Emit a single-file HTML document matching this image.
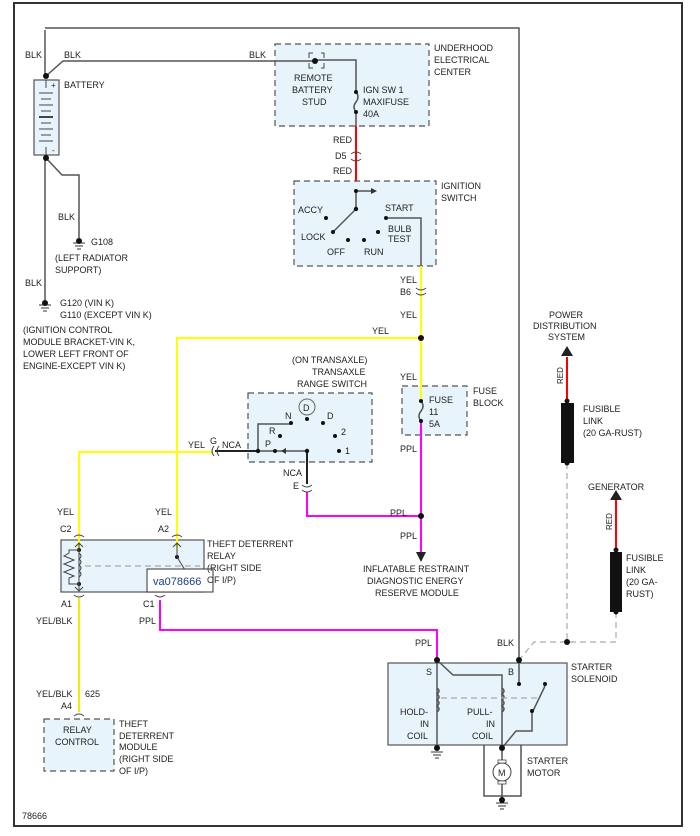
<!DOCTYPE html>
<html><head><style>
html,body{margin:0;padding:0;background:#fff;}
svg{display:block;}
text{font-family:"Liberation Sans",sans-serif;font-size:9px;fill:#222;}
</style></head><body>
<svg width="700" height="836" viewBox="0 0 700 836" xmlns="http://www.w3.org/2000/svg">
<rect x="14" y="3" width="668" height="823" fill="#fff" stroke="#333" stroke-width="2"/>
<g fill="#e8f4fc" stroke="#555" stroke-width="1.2" stroke-dasharray="6,4">
<rect x="275" y="44" width="154" height="82"/>
<rect x="294" y="181" width="142" height="85"/>
<rect x="248" y="393" width="124" height="69"/>
<rect x="402" y="386" width="65" height="49"/>
<rect x="44" y="719" width="70" height="52"/>
</g>
<g fill="#e8f4fc" stroke="#555" stroke-width="1.2">
<rect x="34" y="80" width="25" height="75"/>
<rect x="61" y="540" width="143" height="52"/>
<rect x="388" y="663" width="179" height="82"/>
</g>
<!-- black wires -->
<g fill="none" stroke="#555" stroke-width="1.5">
<polyline points="45,30 45,76"/>
<polyline points="45,158 45,300"/>
<polyline points="46,76 63,61 315,61"/>
<polyline points="315,60 356,60 356,92"/>
<polyline points="356,112 356,126"/>
<polyline points="46,158 62,175 79,175 79,238"/>
<polyline points="45,28 519,28 519,660"/>
<polyline points="356,191 356,209 333,232"/>
<polyline points="386,218 421,218 421,266"/>
<polyline points="437,660 437,748"/>
<polyline points="437,660 453,675 502,675 502,748"/>
<polyline points="519,660 519,684"/>
<polyline points="502,748 516,731 532,731 532,713 545,686"/>
<polyline points="484,745 484,796 521,796 521,745"/>
<line x1="502" y1="745" x2="502" y2="763"/>
<line x1="502" y1="781" x2="502" y2="800"/>
<polyline points="258,451 258,424 291,424"/>
<polyline points="258,451 307,451"/>
<path d="M356,92 q4,5 0,10 q-4,5 0,10"/>
<path d="M421,401 q4,5 0,10 q-4,5 0,10"/>
<path d="M437,688 q4,3 0,6 q4,3 0,6 q4,3 0,6 q4,3 0,6"/>
<path d="M502,688 q4,3 0,6 q4,3 0,6 q4,3 0,6 q4,3 0,6"/>
</g>
<g stroke="#222" stroke-width="2" fill="none">
<line x1="215" y1="451" x2="258" y2="451"/>
<line x1="307" y1="451" x2="307" y2="484"/>
</g>
<line x1="356" y1="191" x2="374" y2="191" stroke="#333" stroke-width="1.2"/>
<polygon points="377,191 371,188 371,194" fill="#333"/>
<polygon points="281,451 286,448 286,454" fill="#333"/>
<!-- colored wires -->
<g fill="none" stroke-width="2">
<line x1="356" y1="126" x2="356" y2="181" stroke="#f00"/>
<polyline points="421,266 421,401" stroke="#ff0"/>
<polyline points="421,338 177,338 177,548" stroke="#ff0"/>
<polyline points="212,452 79,452 79,548" stroke="#ff0"/>
<line x1="79" y1="598" x2="79" y2="712" stroke="#ee0"/>
<line x1="421" y1="421" x2="421" y2="552" stroke="#f0f"/>
<polyline points="307,492 307,516 421,516" stroke="#f0f"/>
<polyline points="160,600 160,630 437,630 437,660" stroke="#f0f"/>
<line x1="567" y1="357" x2="567" y2="403" stroke="#f00"/>
<line x1="616" y1="500" x2="616" y2="552" stroke="#f00"/>
</g>
<polygon points="416,552 426,552 421,562" fill="#222"/>
<polygon points="561,356 573,356 567,346" fill="#222"/>
<polygon points="610,500 622,500 616,490" fill="#222"/>
<rect x="561" y="403" width="13" height="60" fill="#111"/>
<rect x="610" y="552" width="12" height="60" fill="#111"/>
<g fill="none" stroke="#aaa" stroke-width="1.2" stroke-dasharray="6,4">
<polyline points="567,463 567,642"/>
<polyline points="616,612 616,642 534,642 519,660"/>
<line x1="85" y1="566" x2="200" y2="566"/>
<line x1="441" y1="698" x2="540" y2="698"/>
</g>
<!-- battery plates -->
<g stroke="#444" stroke-width="1">
<line x1="46" y1="80" x2="46" y2="88"/><line x1="46" y1="147" x2="46" y2="155"/>
<line x1="39" y1="93" x2="53" y2="93"/><line x1="41" y1="99" x2="51" y2="99"/>
<line x1="39" y1="105" x2="53" y2="105"/><line x1="41" y1="111" x2="51" y2="111"/>
<line x1="39" y1="117" x2="53" y2="117" stroke-width="2"/><line x1="41" y1="123" x2="51" y2="123"/>
<line x1="39" y1="129" x2="53" y2="129"/><line x1="41" y1="135" x2="51" y2="135"/>
<line x1="39" y1="141" x2="53" y2="141"/>
</g>
<text x="51" y="88" style="font-size:8px">+</text><text x="52" y="153" style="font-size:8px">-</text>
<!-- grounds -->
<g stroke="#333" stroke-width="1">
<line x1="73" y1="243" x2="85" y2="243"/><line x1="75" y1="246" x2="83" y2="246"/><line x1="77" y1="249" x2="81" y2="249"/>
<line x1="39" y1="305" x2="51" y2="305"/><line x1="41" y1="308" x2="49" y2="308"/><line x1="43" y1="311" x2="47" y2="311"/>
<line x1="431" y1="752" x2="443" y2="752"/><line x1="433" y1="755" x2="441" y2="755"/><line x1="435" y1="758" x2="439" y2="758"/>
<line x1="496" y1="803" x2="508" y2="803"/><line x1="498" y1="806" x2="506" y2="806"/><line x1="500" y1="809" x2="504" y2="809"/>
</g>
<circle cx="502" cy="772" r="9" fill="#fff" stroke="#444"/>
<text x="498" y="776">M</text>
<rect x="498" y="760" width="8" height="3" fill="#fff" stroke="#444" stroke-width="0.8"/>
<rect x="498" y="781" width="8" height="3" fill="#fff" stroke="#444" stroke-width="0.8"/>
<circle cx="307" cy="407" r="8" fill="none" stroke="#666"/>
<text x="303" y="411">D</text>
<!-- stud bracket -->
<path d="M309,58 v-5 h4 M321,53 h3 v5 M309,63 v5 h4 M321,68 h3 v-5" fill="none" stroke="#444"/>
<!-- dots -->
<g fill="#111">
<circle cx="46" cy="76" r="3"/><circle cx="46" cy="158" r="3"/><circle cx="315" cy="61" r="3"/>
<circle cx="79" cy="241" r="3"/><circle cx="45" cy="303" r="3"/>
<circle cx="356" cy="92" r="2"/><circle cx="356" cy="112" r="2"/>
<circle cx="356" cy="191" r="2"/><circle cx="356" cy="209" r="2.2"/><circle cx="333" cy="232" r="2"/>
<circle cx="326" cy="218" r="2"/><circle cx="348" cy="240" r="2"/><circle cx="364" cy="240" r="2"/>
<circle cx="378" cy="232" r="2"/><circle cx="386" cy="218" r="2"/>
<circle cx="421" cy="338" r="3"/><circle cx="421" cy="516" r="3"/>
<circle cx="421" cy="401" r="2"/><circle cx="421" cy="421" r="2"/>
<circle cx="291" cy="423" r="2"/><circle cx="307" cy="419" r="2"/><circle cx="323" cy="423" r="2"/>
<circle cx="280" cy="436" r="2"/><circle cx="335" cy="436" r="2"/><circle cx="258" cy="451" r="2.2"/>
<circle cx="275" cy="451" r="2"/><circle cx="307" cy="451" r="2.2"/><circle cx="339" cy="451" r="2"/>
<circle cx="567" cy="401" r="2.5"/><circle cx="567" cy="463" r="2.5"/><circle cx="567" cy="642" r="3"/>
<circle cx="616" cy="550" r="2.5"/><circle cx="616" cy="612" r="2.5"/>
<circle cx="437" cy="660" r="3"/><circle cx="519" cy="660" r="3"/><circle cx="437" cy="748" r="3"/>
<circle cx="502" cy="748" r="3"/><circle cx="502" cy="800" r="3"/><circle cx="519" cy="684" r="2"/>
<circle cx="545" cy="684" r="2"/><circle cx="532" cy="711" r="2"/>
<circle cx="79" cy="550" r="2"/><circle cx="79" cy="584" r="2"/><circle cx="177" cy="557" r="2"/>
</g>
<!-- relay internals -->
<g fill="none" stroke="#444" stroke-width="1">
<line x1="79" y1="543" x2="79" y2="590"/>
<polyline points="79,550 69,550 69,553 64,556 74,560 64,564 74,568 64,572 74,576 69,578 69,584 79,584"/>
<path d="M79,553 q4,3 0,6 q4,3 0,6 q4,3 0,6 q4,3 0,6"/>
<polyline points="177,543 177,557 190,578"/>
<path d="M75,547 l4,-4 l4,4 M75,587 l4,4 l4,-4 M173,547 l4,-4 l4,4"/>
</g>
<!-- connectors -->
<g fill="none" stroke="#444" stroke-width="1">
<path d="M351,154 q5,-4 10,0 M351,159 q5,4 10,0"/>
<path d="M416,288 q5,4 10,0 M416,293 q5,4 10,0"/>
<path d="M214,446 q-4,5 0,10 M219,446 q-4,5 0,10"/>
<path d="M302,485 q5,4 10,0 M302,490 q5,4 10,0"/>
<path d="M74,537 q5,-4 10,0 M172,537 q5,-4 10,0"/>
<path d="M74,595 q5,4 10,0 M155,595 q5,4 10,0"/>
<path d="M74,716 q5,-4 10,0"/>
</g>
<rect x="147" y="569" width="66" height="23" fill="#fff" stroke="#333"/>
<text x="153" y="585" style="font-size:11px;fill:#1a3c8c">va078666</text>
<!-- labels -->
<text x="25" y="58">BLK</text><text x="64" y="58">BLK</text><text x="249" y="58">BLK</text>
<text x="64" y="88">BATTERY</text>
<text x="434" y="51">UNDERHOOD</text><text x="434" y="63">ELECTRICAL</text><text x="434" y="75">CENTER</text>
<text x="294" y="81">REMOTE</text><text x="292" y="93">BATTERY</text><text x="302" y="105">STUD</text>
<text x="363" y="93">IGN SW 1</text><text x="363" y="105">MAXIFUSE</text><text x="363" y="117">40A</text>
<text x="333" y="143">RED</text><text x="335" y="159">D5</text><text x="333" y="174">RED</text>
<text x="441" y="189">IGNITION</text><text x="441" y="201">SWITCH</text>
<text x="298" y="213">ACCY</text><text x="385" y="211">START</text><text x="301" y="240">LOCK</text>
<text x="388" y="232">BULB</text><text x="388" y="242">TEST</text>
<text x="327" y="255">OFF</text><text x="364" y="255">RUN</text>
<text x="58" y="220">BLK</text><text x="91" y="245">G108</text>
<text x="55" y="261">(LEFT RADIATOR</text><text x="55" y="273">SUPPORT)</text>
<text x="25" y="286">BLK</text>
<text x="60" y="306">G120 (VIN K)</text><text x="60" y="318">G110 (EXCEPT VIN K)</text>
<text x="23" y="333">(IGNITION CONTROL</text><text x="23" y="345">MODULE BRACKET-VIN K,</text>
<text x="23" y="357">LOWER LEFT FRONT OF</text><text x="23" y="369">ENGINE-EXCEPT VIN K)</text>
<text x="400" y="283">YEL</text><text x="400" y="295">B6</text><text x="400" y="318">YEL</text>
<text x="372" y="334">YEL</text>
<text x="292" y="363">(ON TRANSAXLE)</text><text x="312" y="375">TRANSAXLE</text><text x="297" y="387">RANGE SWITCH</text>
<text x="285" y="419">N</text><text x="327" y="419">D</text><text x="269" y="434">R</text><text x="341" y="435">2</text>
<text x="265" y="447">P</text><text x="345" y="454">1</text>
<text x="188" y="448">YEL</text><text x="210" y="444">G</text><text x="222" y="448">NCA</text>
<text x="283" y="476">NCA</text><text x="293" y="489">E</text>
<text x="400" y="380">YEL</text>
<text x="429" y="403">FUSE</text><text x="429" y="415">11</text><text x="429" y="427">5A</text>
<text x="473" y="394">FUSE</text><text x="473" y="406">BLOCK</text>
<text x="400" y="452">PPL</text><text x="390" y="516">PPL</text><text x="400" y="539">PPL</text>
<text x="363" y="572">INFLATABLE RESTRAINT</text><text x="367" y="584">DIAGNOSTIC ENERGY</text><text x="375" y="596">RESERVE MODULE</text>
<text x="57" y="515">YEL</text><text x="155" y="515">YEL</text>
<text x="60" y="532">C2</text><text x="158" y="532">A2</text>
<text x="207" y="547">THEFT DETERRENT</text><text x="207" y="559">RELAY</text><text x="207" y="571">(RIGHT SIDE</text><text x="207" y="583">OF I/P)</text>
<text x="61" y="607">A1</text><text x="143" y="607">C1</text>
<text x="36" y="624">YEL/BLK</text><text x="139" y="624">PPL</text>
<text x="36" y="697">YEL/BLK</text><text x="85" y="697">625</text><text x="61" y="709">A4</text>
<text x="63" y="733">RELAY</text><text x="55" y="745">CONTROL</text>
<text x="119" y="727">THEFT</text><text x="119" y="739">DETERRENT</text><text x="119" y="750">MODULE</text><text x="119" y="762">(RIGHT SIDE</text><text x="119" y="774">OF I/P)</text>
<text x="22" y="819">78666</text>
<text x="415" y="646">PPL</text><text x="497" y="646">BLK</text>
<text x="426" y="675">S</text><text x="508" y="675">B</text>
<text x="571" y="670">STARTER</text><text x="571" y="682">SOLENOID</text>
<text x="400" y="715">HOLD-</text><text x="420" y="727">IN</text><text x="407" y="739">COIL</text>
<text x="467" y="715">PULL-</text><text x="486" y="727">IN</text><text x="472" y="739">COIL</text>
<text x="527" y="764">STARTER</text><text x="527" y="776">MOTOR</text>
<text x="549" y="318">POWER</text><text x="533" y="329">DISTRIBUTION</text><text x="548" y="340">SYSTEM</text>
<text x="583" y="412">FUSIBLE</text><text x="583" y="424">LINK</text><text x="583" y="436">(20 GA-RUST)</text>
<text x="588" y="490">GENERATOR</text>
<text x="626" y="561">FUSIBLE</text><text x="626" y="573">LINK</text><text x="626" y="585">(20 GA-</text><text x="626" y="597">RUST)</text>
<text transform="translate(563,384) rotate(-90)" style="font-size:8px">RED</text>
<text transform="translate(612,530) rotate(-90)" style="font-size:8px">RED</text>
</svg>
</body></html>
